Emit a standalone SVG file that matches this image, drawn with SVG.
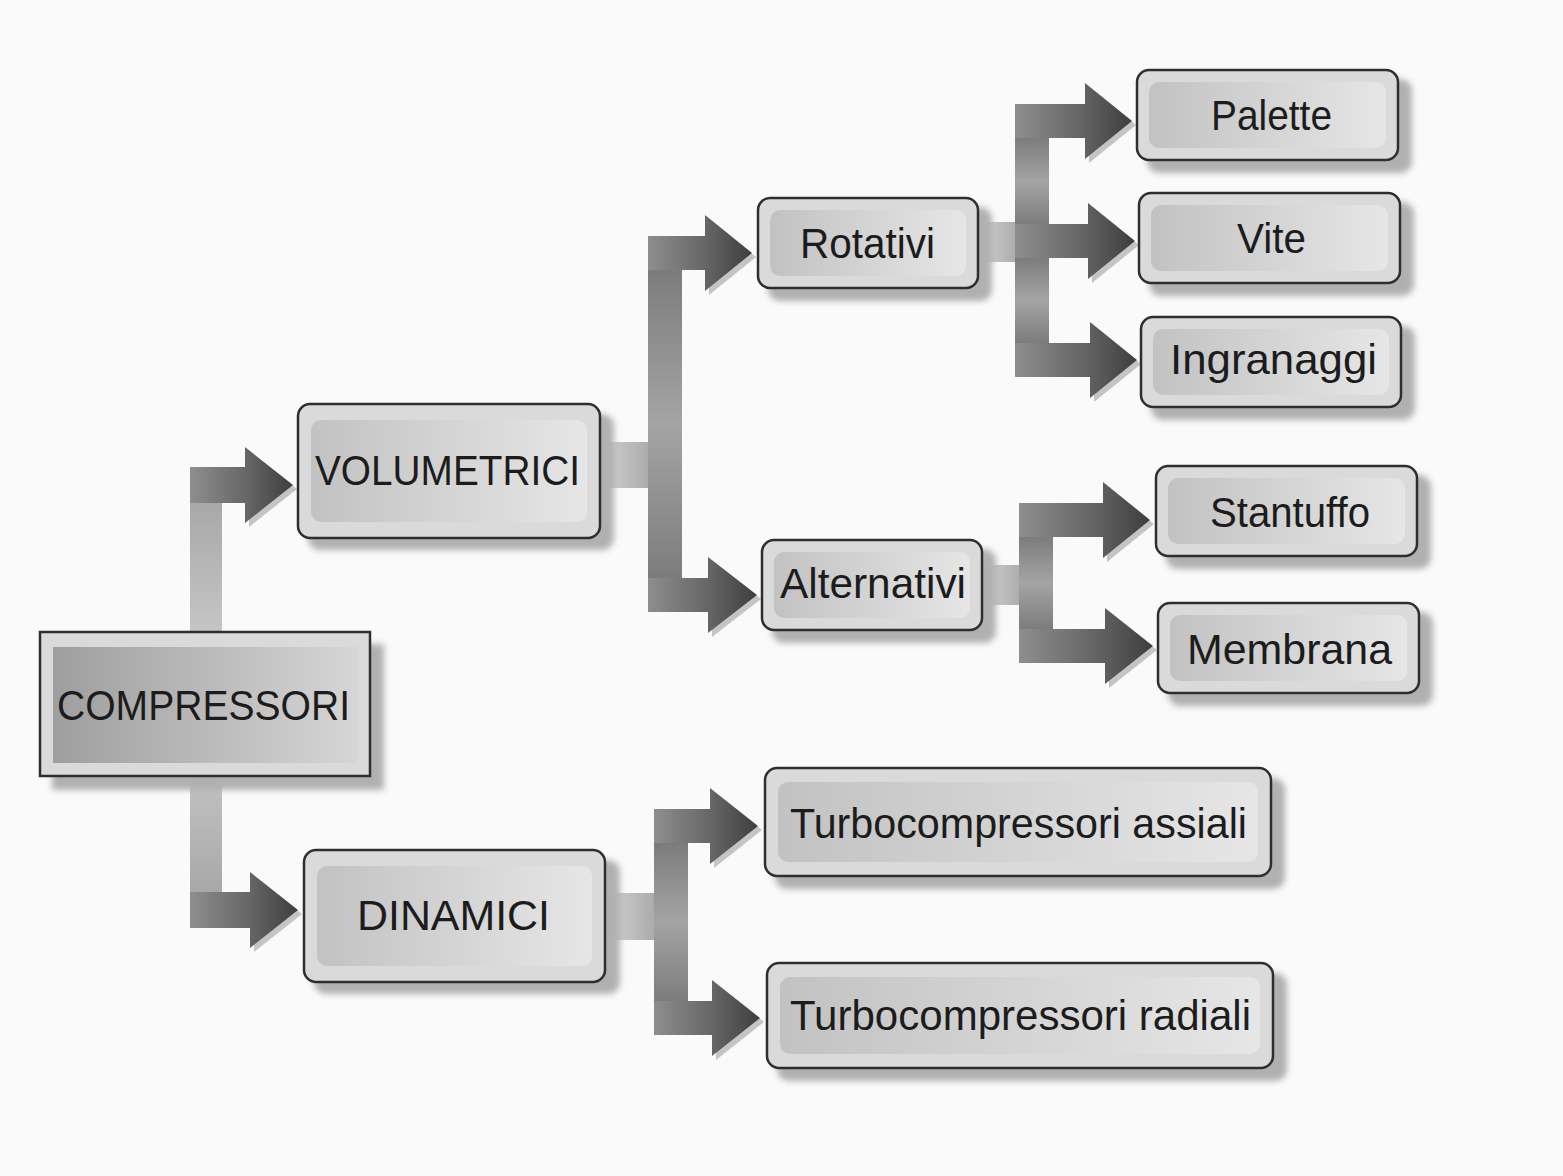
<svg xmlns="http://www.w3.org/2000/svg" width="1563" height="1176" viewBox="0 0 1563 1176">
<defs>
<linearGradient id="arm" x1="0" y1="0" x2="1" y2="0"><stop offset="0" stop-color="#8e8e8e"/><stop offset="0.55" stop-color="#666"/><stop offset="1" stop-color="#3e3e3e"/></linearGradient>
<linearGradient id="stub" x1="0" y1="0" x2="1" y2="0"><stop offset="0" stop-color="#d6d6d6"/><stop offset="1" stop-color="#a8a8a8"/></linearGradient>
<linearGradient id="vbar" x1="0" y1="0" x2="0" y2="1"><stop offset="0" stop-color="#7c7c7c"/><stop offset="0.5" stop-color="#a4a4a4"/><stop offset="1" stop-color="#7c7c7c"/></linearGradient>
<linearGradient id="vbar0" x1="0" y1="0" x2="0" y2="1"><stop offset="0" stop-color="#a8a8a8"/><stop offset="0.5" stop-color="#d4d4d4"/><stop offset="1" stop-color="#a8a8a8"/></linearGradient>
<linearGradient id="inner" x1="0" y1="0" x2="1" y2="0"><stop offset="0" stop-color="#c2c2c2"/><stop offset="1" stop-color="#e6e6e6"/></linearGradient>
<linearGradient id="innerC" x1="0" y1="0" x2="1" y2="0"><stop offset="0" stop-color="#9e9e9e"/><stop offset="1" stop-color="#d6d6d6"/></linearGradient>
<filter id="blur" x="-10%" y="-10%" width="120%" height="120%"><feGaussianBlur stdDeviation="3"/></filter>
</defs>
<style>
.box{fill:#dadada;stroke:#2e2e2e;stroke-width:2.5}
.shadow{fill:#b0b0b0;filter:url(#blur)}
.inner{fill:url(#inner)}
.lbl{font-family:"Liberation Sans","DejaVu Sans",sans-serif;font-size:42px;fill:#1c1c1c;text-anchor:start}
.arm{fill:url(#arm)}
.ash{fill:#c4c4c4}
.stub{fill:url(#stub)}
.vbar{fill:url(#vbar)}
</style>
<rect width="1563" height="1176" fill="#fafafa"/>
<g id="connectors">
  <!-- COMPRESSORI -->
  <path class="ash" d="M249,451 L297,489 L249,527 Z"/>
  <path class="arm" d="M190,467 L245,467 L245,447 L293,485 L245,523 L245,503 L190,503 Z"/>
  <path class="ash" d="M254,876 L302,914 L254,952 Z"/>
  <path class="arm" d="M190,892 L250,892 L250,872 L298,910 L250,948 L250,928 L190,928 Z"/>
  <rect x="190" y="503" width="32" height="389" fill="url(#vbar0)"/>
  <!-- VOLUMETRICI -->
  <rect class="stub" x="598" y="442" width="54" height="46"/>
  <path class="ash" d="M709,219 L756,257 L709,295 Z"/>
  <path class="arm" d="M648,236 L705,236 L705,215 L752,253 L705,291 L705,270 L648,270 Z"/>
  <path class="ash" d="M712,561 L761,599 L712,637 Z"/>
  <path class="arm" d="M648,578 L708,578 L708,557 L757,595 L708,633 L708,612 L648,612 Z"/>
  <rect class="vbar" x="648" y="270" width="34" height="308"/>
  <!-- Rotativi -->
  <rect class="stub" x="976" y="222" width="44" height="40"/>
  <path class="ash" d="M1089,87 L1136,125 L1089,163 Z"/>
  <path class="arm" d="M1015,104 L1085,104 L1085,83 L1132,121 L1085,159 L1085,138 L1015,138 Z"/>
  <path class="ash" d="M1092,207 L1139,245 L1092,283 Z"/>
  <path class="arm" d="M1015,224 L1088,224 L1088,203 L1135,241 L1088,279 L1088,258 L1015,258 Z"/>
  <path class="ash" d="M1094,326 L1141,364 L1094,402 Z"/>
  <path class="arm" d="M1015,343 L1090,343 L1090,322 L1137,360 L1090,398 L1090,377 L1015,377 Z"/>
  <rect class="vbar" x="1015" y="138" width="34" height="86"/>
  <rect class="vbar" x="1015" y="258" width="34" height="85"/>
  <!-- Alternativi -->
  <rect class="stub" x="980" y="565" width="44" height="40"/>
  <path class="ash" d="M1107,486 L1154,524 L1107,562 Z"/>
  <path class="arm" d="M1019,503 L1103,503 L1103,482 L1150,520 L1103,558 L1103,537 L1019,537 Z"/>
  <path class="ash" d="M1109,612 L1157,650 L1109,688 Z"/>
  <path class="arm" d="M1019,629 L1105,629 L1105,608 L1153,646 L1105,684 L1105,663 L1019,663 Z"/>
  <rect class="vbar" x="1019" y="537" width="34" height="92"/>
  <!-- DINAMICI -->
  <rect class="stub" x="603" y="893" width="55" height="47"/>
  <path class="ash" d="M714,792 L762,830 L714,868 Z"/>
  <path class="arm" d="M654,809 L710,809 L710,788 L758,826 L710,864 L710,843 L654,843 Z"/>
  <path class="ash" d="M716,984 L764,1022 L716,1060 Z"/>
  <path class="arm" d="M654,1001 L712,1001 L712,980 L760,1018 L712,1056 L712,1035 L654,1035 Z"/>
  <rect class="vbar" x="654" y="843" width="34" height="158"/>
</g>
<g id="n-compressori">
  <rect class="shadow" x="52" y="644" width="332" height="146"/>
  <rect class="box" x="40" y="632" width="330" height="144"/>
  <rect x="53" y="647" width="305" height="116" fill="url(#innerC)"/>
  <text class="lbl" x="57" y="720" textLength="293" lengthAdjust="spacingAndGlyphs">COMPRESSORI</text>
</g>
<g id="n-volumetrici">
  <rect class="shadow" x="308" y="414" width="306" height="136" rx="12"/>
  <rect class="box" x="298" y="404" width="302" height="134" rx="12"/>
  <rect class="inner" x="311" y="420" width="276" height="102" rx="10"/>
  <text class="lbl" x="315" y="485" textLength="265" lengthAdjust="spacingAndGlyphs">VOLUMETRICI</text>
</g>
<g id="n-dinamici">
  <rect class="shadow" x="314" y="860" width="306" height="134" rx="12"/>
  <rect class="box" x="304" y="850" width="301" height="132" rx="12"/>
  <rect class="inner" x="317" y="866" width="275" height="100" rx="10"/>
  <text class="lbl" x="357" y="930" textLength="193" lengthAdjust="spacingAndGlyphs">DINAMICI</text>
</g>
<g id="n-rotativi">
  <rect class="shadow" x="768" y="207" width="224" height="94" rx="12"/>
  <rect class="box" x="758" y="198" width="220" height="90" rx="12"/>
  <rect class="inner" x="770" y="210" width="196" height="66" rx="10"/>
  <text class="lbl" x="800" y="258" textLength="135" lengthAdjust="spacingAndGlyphs">Rotativi</text>
</g>
<g id="n-alternativi">
  <rect class="shadow" x="772" y="549" width="224" height="94" rx="12"/>
  <rect class="box" x="762" y="540" width="220" height="90" rx="12"/>
  <rect class="inner" x="774" y="552" width="196" height="66" rx="10"/>
  <text class="lbl" x="780" y="598" textLength="186" lengthAdjust="spacingAndGlyphs">Alternativi</text>
</g>
<g id="n-palette">
  <rect class="shadow" x="1147" y="79" width="265" height="94" rx="12"/>
  <rect class="box" x="1137" y="70" width="261" height="90" rx="12"/>
  <rect class="inner" x="1149" y="82" width="237" height="66" rx="10"/>
  <text class="lbl" x="1211" y="130" textLength="121" lengthAdjust="spacingAndGlyphs">Palette</text>
</g>
<g id="n-vite">
  <rect class="shadow" x="1149" y="202" width="265" height="94" rx="12"/>
  <rect class="box" x="1139" y="193" width="261" height="90" rx="12"/>
  <rect class="inner" x="1151" y="205" width="237" height="66" rx="10"/>
  <text class="lbl" x="1237" y="253" textLength="69" lengthAdjust="spacingAndGlyphs">Vite</text>
</g>
<g id="n-ingranaggi">
  <rect class="shadow" x="1151" y="326" width="264" height="94" rx="12"/>
  <rect class="box" x="1141" y="317" width="260" height="90" rx="12"/>
  <rect class="inner" x="1153" y="329" width="236" height="66" rx="10"/>
  <text class="lbl" x="1170" y="374" textLength="207" lengthAdjust="spacingAndGlyphs">Ingranaggi</text>
</g>
<g id="n-stantuffo">
  <rect class="shadow" x="1166" y="475" width="265" height="94" rx="12"/>
  <rect class="box" x="1156" y="466" width="261" height="90" rx="12"/>
  <rect class="inner" x="1168" y="478" width="237" height="66" rx="10"/>
  <text class="lbl" x="1210" y="527" textLength="160" lengthAdjust="spacingAndGlyphs">Stantuffo</text>
</g>
<g id="n-membrana">
  <rect class="shadow" x="1168" y="612" width="265" height="94" rx="12"/>
  <rect class="box" x="1158" y="603" width="261" height="90" rx="12"/>
  <rect class="inner" x="1170" y="615" width="237" height="66" rx="10"/>
  <text class="lbl" x="1187" y="664" textLength="205" lengthAdjust="spacingAndGlyphs">Membrana</text>
</g>
<g id="n-assiali">
  <rect class="shadow" x="775" y="778" width="510" height="111" rx="12"/>
  <rect class="box" x="765" y="768" width="506" height="108" rx="12"/>
  <rect class="inner" x="778" y="782" width="480" height="80" rx="10"/>
  <text class="lbl" x="790" y="838" textLength="457" lengthAdjust="spacingAndGlyphs">Turbocompressori assiali</text>
</g>
<g id="n-radiali">
  <rect class="shadow" x="777" y="973" width="510" height="108" rx="12"/>
  <rect class="box" x="767" y="963" width="506" height="105" rx="12"/>
  <rect class="inner" x="780" y="977" width="480" height="77" rx="10"/>
  <text class="lbl" x="790" y="1030" textLength="461" lengthAdjust="spacingAndGlyphs">Turbocompressori radiali</text>
</g>
</svg>
